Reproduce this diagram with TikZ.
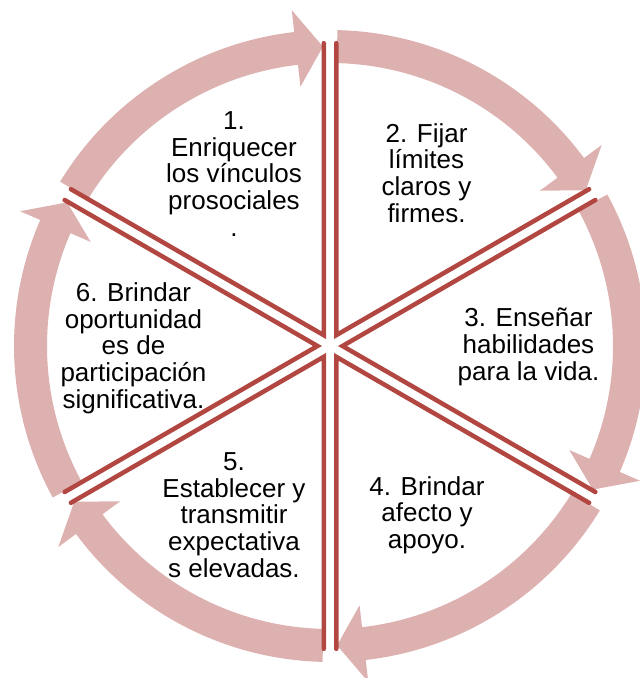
\documentclass[tikz,border=0pt]{standalone}
\usepackage{fontspec}
\setmainfont{Liberation Sans}
\usetikzlibrary{calc}
\definecolor{bandpink}{RGB}{221,177,176}
\definecolor{linered}{RGB}{178,70,65}
\tikzset{
  band/.style={fill=bandpink,draw=none},
  sectline/.style={draw=linered,line width=4.5pt,line cap=round,line join=miter},
  lbl/.style={align=center,inner sep=0pt,font=\fontsize{26}{26.7}\selectfont,text=black}
}
\begin{document}
\begin{tikzpicture}[x=1pt,y=1pt]
\useasboundingbox (0,0) rectangle (640,678);
\begin{scope}[shift={(330,332)}]
  % circular arrow segments (clockwise)
  \foreach \ds in {150,90,30,-30,-90,-150}{
    \pgfmathsetmacro{\as}{\ds-1.35}
    \pgfmathsetmacro{\at}{\ds-60+1.35}
    \pgfmathsetmacro{\ab}{\ds-60+6.5}
    \fill[band] (\as:316) arc[start angle=\as,end angle=\ab,radius=316]
      -- (\ab:338) -- (\at:299.5) -- (\ab:261) -- (\ab:283)
      arc[start angle=\ab,end angle=\as,radius=283] -- cycle;
  }
  % sector vertices
  \foreach \b/\n in {120/1,60/2,0/3,-60/4,-120/5,180/6}{
    \coordinate (v\n) at (\b:12.5);
  }
  \foreach \b/\n in {120/1,60/2,0/3,-60/4,-120/5,180/6}{
    \draw[sectline] ($(v\n)+(\b+30:292)$) -- (v\n) -- ($(v\n)+(\b-30:292)$);
  }
\end{scope}
\node[lbl] (t1) at (234,504) {1.\\Enriquecer\\los vínculos\\prosociales\\.};
\node[lbl] (t2) at (426.5,505) {2. Fijar\\límites\\claros y\\firmes.};
\node[lbl] (t3) at (528.5,331) {3. Enseñar\\habilidades\\para la vida.};
\node[lbl] (t4) at (427,163) {4. Brindar\\afecto y\\apoyo.};
\node[lbl] (t5) at (234,163) {5.\\Establecer y\\transmitir\\expectativa\\s elevadas.};
\node[lbl] (t6) at (133.5,330) {6. Brindar\\oportunidad\\es de\\participación\\significativa.};
\end{tikzpicture}
\end{document}
